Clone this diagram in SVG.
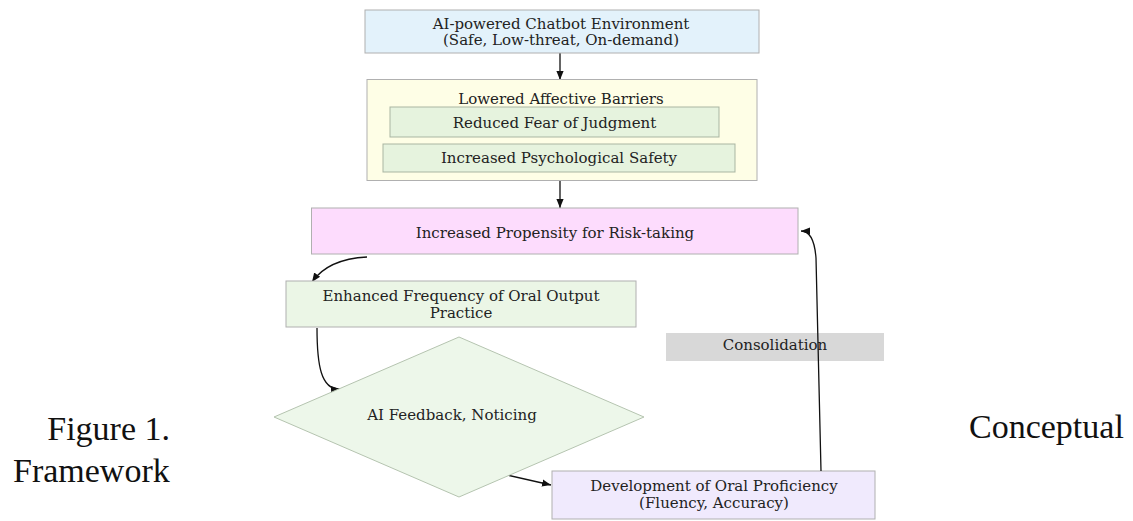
<svg xmlns="http://www.w3.org/2000/svg" width="1133" height="521" viewBox="0 0 1133 521">
<style>
.t{font-family:"DejaVu Serif","Liberation Serif",serif;font-size:15px;fill:#222;text-anchor:middle}
.cap{font-family:"Liberation Serif","DejaVu Serif",serif;font-size:34px;fill:#111}
.box{stroke:#b0b0b0;stroke-width:1}
.c{fill:none;stroke:#111;stroke-width:1.3}
</style>
<defs>
<marker id="ah" viewBox="0 0 10 10" refX="10" refY="5" markerWidth="9" markerHeight="9" markerUnits="userSpaceOnUse" orient="auto">
<path d="M0,1 L10,5 L0,9 z" fill="#111"/>
</marker>
</defs>
<rect width="1133" height="521" fill="#fff"/>

<g id="connectors">
<path class="c" d="M560,53 L560,80" marker-end="url(#ah)"/>
<path class="c" d="M560,181 L560,208" marker-end="url(#ah)"/>
<path class="c" d="M367,257 Q328,259 312,282" marker-end="url(#ah)"/>
<path class="c" d="M317,328 C317,365 321,390 340,389" marker-end="url(#ah)"/>
<path class="c" d="M507,475 L551,485" marker-end="url(#ah)"/>
</g>

<g id="n-env">
<rect class="box" x="365" y="10" width="394" height="43" fill="#e3f2fb"/>
<text class="t" x="561" y="28.5">AI-powered Chatbot Environment</text>
<text class="t" x="561" y="45">(Safe, Low-threat, On-demand)</text>
</g>

<g id="n-barriers">
<rect class="box" x="367" y="79.5" width="390" height="101" fill="#fefee6"/>
<text class="t" x="561" y="104">Lowered Affective Barriers</text>
<g id="n-fear">
<rect x="390" y="107" width="329" height="30" fill="#e6f3de" stroke="#a9b5a2"/>
<text class="t" x="554.5" y="127.5">Reduced Fear of Judgment</text>
</g>
<g id="n-safety">
<rect x="383" y="144" width="352" height="28" fill="#e6f3de" stroke="#a9b5a2"/>
<text class="t" x="559" y="163">Increased Psychological Safety</text>
</g>
</g>

<g id="n-risk">
<rect class="box" x="311.5" y="208" width="486.5" height="46" fill="#fddcfd"/>
<text class="t" x="555" y="238">Increased Propensity for Risk-taking</text>
</g>

<g id="n-practice">
<rect class="box" x="286" y="281" width="350" height="46" fill="#ebf6e6"/>
<text class="t" x="461" y="301">Enhanced Frequency of Oral Output</text>
<text class="t" x="461" y="318">Practice</text>
</g>

<g id="n-consolidation">
<rect x="666" y="333" width="218" height="28" fill="#d8d8d8"/>
<text class="t" x="775" y="350">Consolidation</text>
</g>

<g id="n-feedback">
<polygon points="459,337 644,417 459,497 274,417" fill="#edf7ea" stroke="#b5c4b0" stroke-width="1"/>
<text class="t" x="452" y="420">AI Feedback, Noticing</text>
</g>

<g id="n-proficiency">
<rect class="box" x="552" y="471" width="323" height="48" fill="#f0eafd"/>
<text class="t" x="714" y="491">Development of Oral Proficiency</text>
<text class="t" x="714" y="508">(Fluency, Accuracy)</text>
</g>

<g id="connectors-feedback">
<path class="c" d="M821,471 L816,258 Q814,231 801,231" marker-end="url(#ah)"/>
</g>

<g id="caption">
<text class="cap" x="170" y="440" text-anchor="end">Figure 1.</text>
<text class="cap" x="969" y="438">Conceptual</text>
<text class="cap" x="13" y="482">Framework</text>
</g>
</svg>
